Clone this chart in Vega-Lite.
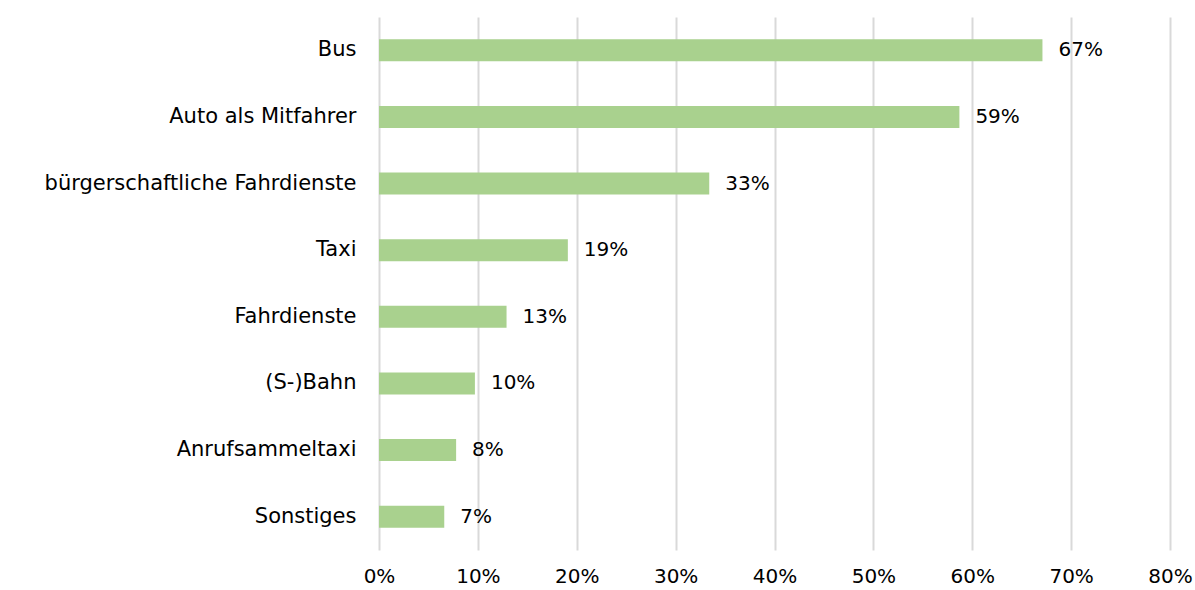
{
  "$schema": "https://vega.github.io/schema/vega-lite/v6.json",
  "autosize": "none",
  "width": 791,
  "height": 533,
  "padding": {"left": 379, "top": 17, "right": 25, "bottom": 40},
  "background": "white",
  "config": {
    "view": {"stroke": null},
    "font": "DejaVu Sans"
  },
  "data": {
    "values": [
      {"kategorie": "Bus", "anteil": 0.671},
      {"kategorie": "Auto als Mitfahrer", "anteil": 0.587},
      {"kategorie": "bürgerschaftliche Fahrdienste", "anteil": 0.334},
      {"kategorie": "Taxi", "anteil": 0.191},
      {"kategorie": "Fahrdienste", "anteil": 0.129},
      {"kategorie": "(S-)Bahn", "anteil": 0.097},
      {"kategorie": "Anrufsammeltaxi", "anteil": 0.078},
      {"kategorie": "Sonstiges", "anteil": 0.066}
    ]
  },
  "encoding": {
    "y": {
      "field": "kategorie",
      "type": "nominal",
      "sort": null,
      "scale": {"paddingInner": 0.67, "paddingOuter": 0.335},
      "axis": {
        "title": null,
        "domain": false,
        "ticks": false,
        "labelPadding": 23,
        "labelFontSize": 21,
        "labelFontWeight": "normal",
        "labelColor": "#000000",
        "labelFont": "DejaVu Sans",
        "labelLimit": 400
      }
    },
    "x": {
      "field": "anteil",
      "type": "quantitative",
      "scale": {"domain": [0, 0.8], "nice": false},
      "axis": {
        "title": null,
        "values": [0, 0.1, 0.2, 0.3, 0.4, 0.5, 0.6, 0.7, 0.8],
        "format": ".0%",
        "domain": false,
        "ticks": false,
        "grid": true,
        "gridColor": "#d9d9d9",
        "gridWidth": 2,
        "labelPadding": 16,
        "labelFontSize": 20,
        "labelColor": "#000000",
        "labelFont": "DejaVu Sans",
        "labelFlush": false
      }
    }
  },
  "layer": [
    {"mark": {"type": "bar", "color": "#a9d18e"}},
    {
      "mark": {"type": "text", "align": "left", "baseline": "middle", "dx": 16, "fontSize": 20, "font": "DejaVu Sans", "color": "#000000"},
      "encoding": {"text": {"field": "anteil", "type": "quantitative", "format": ".0%"}}
    }
  ]
}
